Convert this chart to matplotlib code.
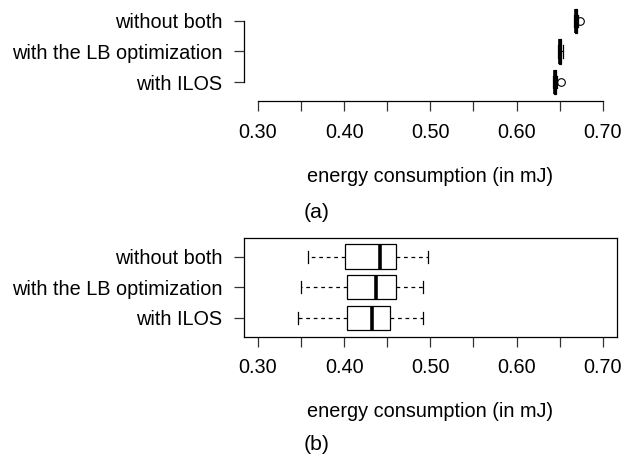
import matplotlib
matplotlib.use("Agg")
import matplotlib.pyplot as plt
from matplotlib.ticker import MultipleLocator, FormatStrFormatter

plt.rcParams['font.family'] = ['Liberation Sans', 'DejaVu Sans']

# groups, bottom to top (R draws the first group at the bottom)
groups = ["with ILOS", "with the LB optimization", "without both"]

# panel (a): very tight distributions
a_whislo = [0.6425, 0.6484, 0.6668]
a_q1 = [0.6436, 0.6496, 0.6678]
a_med = [0.6448, 0.6508, 0.6688]
a_q3 = [0.6460, 0.6520, 0.6698]
a_whishi = [0.6472, 0.6532, 0.6708]
a_fliers = [[0.6513], [], [0.6734]]

# panel (b)
b_whislo = [0.3468, 0.3506, 0.3579]
b_q1 = [0.4030, 0.4030, 0.4008]
b_med = [0.4325, 0.4370, 0.4417]
b_q3 = [0.4537, 0.4599, 0.4606]
b_whishi = [0.4910, 0.4915, 0.4973]
b_fliers = [[], [], []]

xlabel = "energy consumption (in mJ)"
FS = 14.3


def make_stats(lo, q1, med, q3, hi, fliers):
    stats = []
    for i in range(len(groups)):
        stats.append(dict(whislo=lo[i], q1=q1[i], med=med[i], q3=q3[i],
                          whishi=hi[i], fliers=fliers[i], label=groups[i]))
    return stats


def draw_panel(ax, stats, framed):
    ax.bxp(stats, positions=[1, 2, 3], widths=0.8, vert=False,
           patch_artist=True,
           boxprops=dict(facecolor="white", edgecolor="black", linewidth=0.9),
           medianprops=dict(color="black", linewidth=2.6, solid_capstyle="butt"),
           whiskerprops=dict(color="black", linewidth=0.9, linestyle=(0, (3, 3))),
           capprops=dict(color="black", linewidth=0.9),
           capwidths=0.4,
           flierprops=dict(marker="o", markerfacecolor="none",
                           markeredgecolor="black", markersize=5.5,
                           markeredgewidth=0.8))
    ax.set_xlim(0.284, 0.716)
    ax.set_ylim(0.38, 3.62)
    ax.set_yticks([1, 2, 3])
    ax.set_yticklabels(groups)
    ax.xaxis.set_major_locator(MultipleLocator(0.1))
    ax.xaxis.set_minor_locator(MultipleLocator(0.05))
    ax.xaxis.set_major_formatter(FormatStrFormatter("%.2f"))
    ax.tick_params(axis="both", which="both", direction="out", length=7.5,
                   width=0.9, labelsize=FS, color="#333333")
    ax.tick_params(axis="x", which="major", pad=8)
    ax.tick_params(axis="y", pad=8)
    ax.set_xlabel(xlabel, fontsize=FS, labelpad=18)
    if framed:
        for s in ax.spines.values():
            s.set_linewidth(0.9)
    else:
        ax.spines["top"].set_visible(False)
        ax.spines["right"].set_visible(False)
        ax.spines["left"].set_bounds(1, 3)
        ax.spines["bottom"].set_bounds(0.30, 0.70)
        ax.spines["left"].set_linewidth(0.9)
        ax.spines["bottom"].set_linewidth(0.9)


fig = plt.figure(figsize=(6.22, 4.58), dpi=100)
ax_a = fig.add_axes([0.3923, 0.7795, 0.5992, 0.2166])
ax_b = fig.add_axes([0.3923, 0.2648, 0.5992, 0.2162])

draw_panel(ax_a, make_stats(a_whislo, a_q1, a_med, a_q3, a_whishi, a_fliers), False)
draw_panel(ax_b, make_stats(b_whislo, b_q1, b_med, b_q3, b_whishi, b_fliers), True)

fig.text(317 / 622, 1 - 213 / 458, "(a)", fontsize=FS + 1, ha="center", va="center")
fig.text(317 / 622, 1 - 444 / 458, "(b)", fontsize=FS + 1, ha="center", va="center")

fig.savefig("out.png", dpi=100)
